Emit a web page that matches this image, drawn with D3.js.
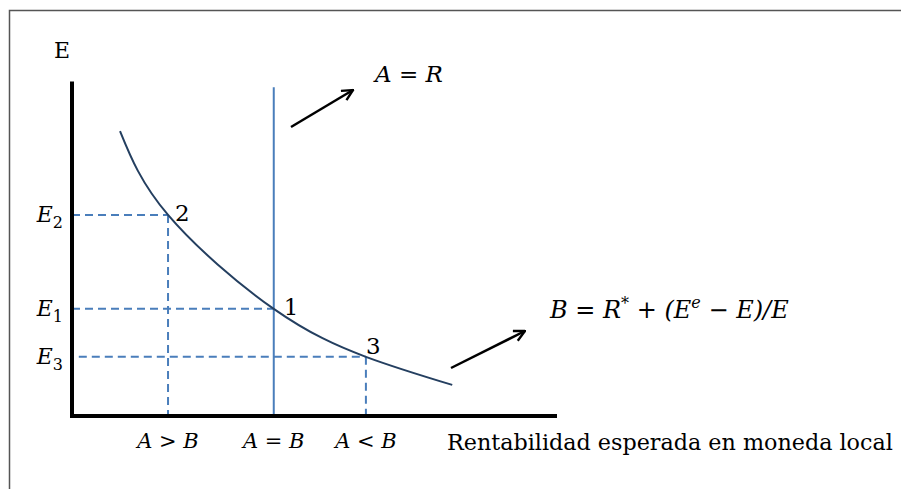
<!DOCTYPE html>
<html>
<head>
<meta charset="utf-8">
<script src="https://cdn.jsdelivr.net/npm/d3@7"></script>
<style>
  body { margin: 0; background: #fff; }
  svg { display: block; }
  text { font-family: "DejaVu Serif", "Liberation Serif", serif; fill: #000; }
</style>
</head>
<body>
<svg></svg>
<script>
// curve B (expected return on foreign deposits in local currency)
const curveX = [9.9, 19.8, 41.6, 60.6, 78.4];
const curveY = [84.3, 59.5, 31.7, 17.5, 9.2];

// equilibrium points on the curve
const pointNames = ["2", "1", "3"];
const pointX = [19.8, 41.6, 60.6];
const pointY = [59.5, 31.7, 17.5];
const yLabels = ["E2", "E1", "E3"];
const xLabels = ["A > B", "A = B", "A < B"];

const lineR = 41.6;     // A = R vertical line
const lineRTop = 97.3;

const width = 901;
const height = 489;

const svg = d3.select("svg").attr("width", width).attr("height", height);

const x = d3.scaleLinear().domain([0, 100]).range([72, 557]);
const y = d3.scaleLinear().domain([0, 100]).range([416, 78]);

const blue = "#4a7ebb";

//frame
svg.append("rect")
    .attr("x", 9.5).attr("y", 10.5)
    .attr("width", width + 10).attr("height", height + 10)
    .attr("fill", "none").attr("stroke", "#555").attr("stroke-width", 1.5);

// arrow marker
svg.append("defs").append("marker")
    .attr("id", "arr")
    .attr("viewBox", "0 0 12 12")
    .attr("refX", 11).attr("refY", 6)
    .attr("markerWidth", 13).attr("markerHeight", 13)
    .attr("markerUnits", "userSpaceOnUse")
    .attr("orient", "auto")
    .append("path")
    .attr("d", "M1,1 L11,6 L1,11")
    .attr("fill", "none").attr("stroke", "#000").attr("stroke-width", 2.2);

// dashed guides
const dash = svg.append("g").attr("stroke", blue).attr("stroke-width", 2)
    .attr("stroke-dasharray", "8,5").attr("fill", "none");
pointX.forEach(function (px, i) {
    const startX = i === 2 ? 1.4 : 0;
    dash.append("line")
        .attr("x1", x(startX)).attr("x2", x(px))
        .attr("y1", y(pointY[i])).attr("y2", y(pointY[i]));
    if (i !== 1) {
        dash.append("line")
            .attr("x1", x(px)).attr("x2", x(px))
            .attr("y1", y(pointY[i])).attr("y2", y(0));
    }
});

// A = R line
svg.append("line")
    .attr("x1", x(lineR)).attr("x2", x(lineR))
    .attr("y1", y(lineRTop)).attr("y2", y(0))
    .attr("stroke", blue).attr("stroke-width", 2);

// curve
const line = d3.line()
    .x(function (d) { return x(d[0]); })
    .y(function (d) { return y(d[1]); })
    .curve(d3.curveNatural);

svg.append("path")
    .datum(d3.zip(curveX, curveY))
    .attr("fill", "none")
    .attr("stroke", "#243f60")
    .attr("stroke-width", 2)
    .attr("d", line);

// axes
svg.append("path")
    .attr("d", `M${x(0)},${y(99)} L${x(0)},${y(0)} L${x(100)},${y(0)}`)
    .attr("fill", "none").attr("stroke", "#000").attr("stroke-width", 4);

svg.append("text").attr("x", 54).attr("y", 58).attr("font-size", 22).text("E");

// y labels with subscripts
yLabels.forEach(function (lab, i) {
    const t = svg.append("text")
        .attr("x", 63).attr("y", y(pointY[i]) + 7)
        .attr("text-anchor", "end")
        .attr("font-size", 22)
        .attr("font-style", "italic");
    t.append("tspan").text(lab[0]);
    t.append("tspan").attr("font-size", 16).attr("font-style", "normal")
        .attr("dy", 6).text(lab[1]);
});

// point numbers
const offs = [[7, 6], [10, 6], [0, -3]];
pointNames.forEach(function (n, i) {
    svg.append("text")
        .attr("x", x(pointX[i]) + offs[i][0])
        .attr("y", y(pointY[i]) + offs[i][1])
        .attr("font-size", 23)
        .text(n);
});

// x labels
xLabels.forEach(function (lab, i) {
    svg.append("text")
        .attr("x", x(pointX[i])).attr("y", 448)
        .attr("text-anchor", "middle")
        .attr("font-size", 21).attr("font-style", "italic")
        .text(lab);
});

const xt = svg.append("text")
    .attr("x", 447).attr("y", 450)
    .attr("font-size", 22)
    .text("Rentabilidad esperada en moneda local");
xt.attr("font-size", 22 * 446 / xt.node().getComputedTextLength());

// arrows + formulas
svg.append("line")
    .attr("x1", 291).attr("y1", 127).attr("x2", 353).attr("y2", 90)
    .attr("stroke", "#000").attr("stroke-width", 2.5)
    .attr("marker-end", "url(#arr)");
svg.append("text").attr("x", 375).attr("y", 82)
    .attr("font-size", 23).attr("font-style", "italic").text("A = R");

svg.append("line")
    .attr("x1", 451).attr("y1", 368).attr("x2", 525).attr("y2", 331)
    .attr("stroke", "#000").attr("stroke-width", 2.5)
    .attr("marker-end", "url(#arr)");

const fb = svg.append("text").attr("x", 550).attr("y", 318)
    .attr("font-size", 24).attr("font-style", "italic");
fb.append("tspan").text("B = R");
fb.append("tspan").attr("dy", -9).attr("font-size", 16).attr("font-style", "normal").text("*");
fb.append("tspan").attr("dy", 9).text(" + (E");
fb.append("tspan").attr("dy", -10).attr("font-size", 16).text("e");
fb.append("tspan").attr("dy", 10).text(" − E)/E");
</script>
</body>
</html>
